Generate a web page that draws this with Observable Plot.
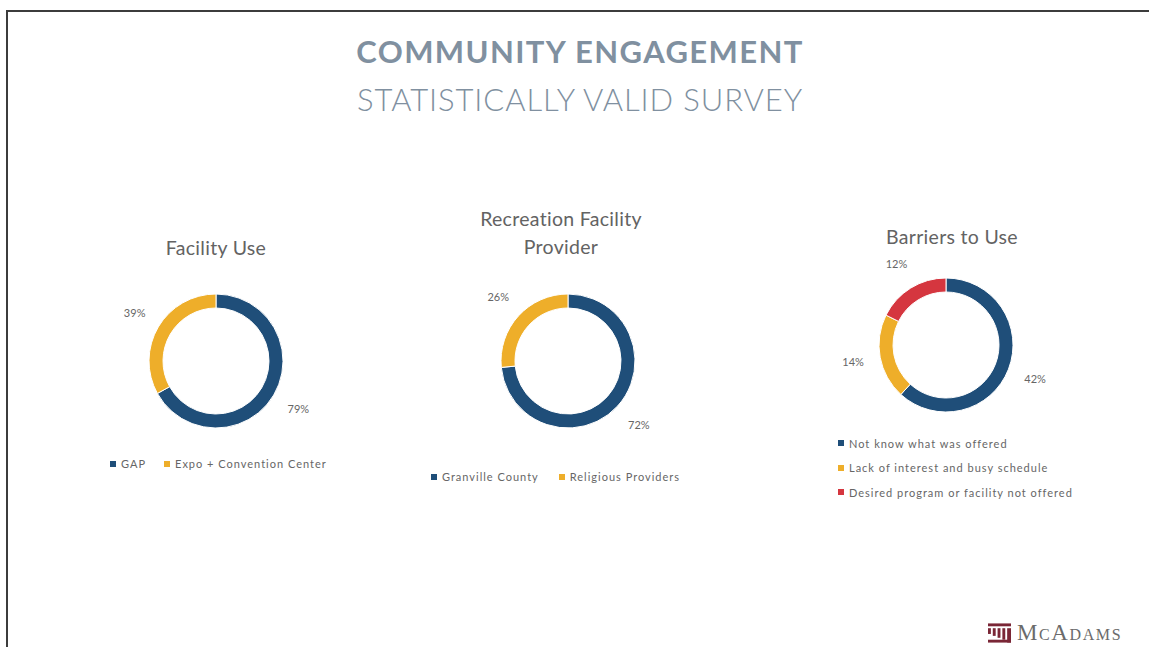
<!DOCTYPE html>
<html>
<head>
<meta charset="utf-8">
<script src="https://cdn.jsdelivr.net/npm/d3@7"></script>
<script src="https://cdn.jsdelivr.net/npm/@observablehq/plot@0.6"></script>
<style>
  html, body { margin: 0; padding: 0; background: #fff; }
  #page { position: relative; width: 1149px; height: 647px; overflow: hidden; background: #fff; font-family: Lato, "Open Sans", sans-serif; }
  #frame { position: absolute; left: 6px; top: 10px; width: 1200px; height: 700px; border-left: 2px solid #3c3c3c; border-top: 2px solid #3c3c3c; }
  .abs { position: absolute; }
  .main-title { left: 0; width: 1160px; text-align: center; color: #8090a0; font-size: 31px; white-space: nowrap; }
  .chart-title { text-align: center; color: #636363; font-size: 19.5px; line-height: 28px; white-space: nowrap; letter-spacing: 0.3px; }
  .legend { color: #666; font-size: 11px; letter-spacing: 1px; white-space: nowrap; display: flex; align-items: center; }
  .legend .item { display: flex; align-items: center; }
  .legend .sw { width: 6px; height: 6px; margin-right: 5px; display: inline-block; }
  .plot { position: absolute; }
  #logo { position: absolute; left: 988px; top: 620px; display: flex; align-items: center; }
  #logo .name { font-family: "Liberation Serif", "DejaVu Serif", serif; font-variant: small-caps; color: #6b6b6b; font-size: 23px; letter-spacing: 1.6px; margin-left: 6px; }
</style>
</head>
<body>
<div id="page">
  <div id="frame"></div>
  <div class="abs main-title" style="top:32px;font-weight:700;letter-spacing:1.4px;">COMMUNITY ENGAGEMENT</div>
  <div class="abs main-title" style="top:80px;font-weight:300;letter-spacing:0.9px;">STATISTICALLY VALID SURVEY</div>
</div>
<script>
// ---- data ----
const facilityTitle = ["Facility Use"];
const facilityLabels = ["GAP", "Expo + Convention Center"];
const facilityValues = [79, 39];

const providerTitle = ["Recreation Facility", "Provider"];
const providerLabels = ["Granville County", "Religious Providers"];
const providerValues = [72, 26];

const barrierTitle = ["Barriers to Use"];
const barrierLabels = ["Not know what was offered", "Lack of interest and busy schedule", "Desired program or facility not offered"];
const barrierValues = [42, 14, 12];

const sliceColors = ["#1f4e79", "#eeae2a", "#d5363f"];

// ---- drawing ----
const page = document.getElementById("page");
const OUTER = 67, INNER = 53, LABEL_R = 95;

function donut(labels, values, cx, cy) {
  const rows = labels.map((l, i) => ({label: l, value: values[i], color: sliceColors[i]}));
  const arcs = d3.pie().sort(null).value(d => d.value)(rows);
  const data = arcs.map(a => ({...a.data, start: a.startAngle, end: a.endAngle, mid: (a.startAngle + a.endAngle) / 2}));

  const ring = (index, scales, values, dims) => {
    const x0 = scales.x(0), y0 = scales.y(0);
    const k = Math.abs(scales.x(1) - scales.x(0));
    const g = d3.create("svg:g").attr("transform", `translate(${x0},${y0})`);
    const arc = d3.arc().innerRadius(INNER * k).outerRadius(OUTER * k);
    g.selectAll("path").data(data).join("path")
      .attr("d", d => arc({startAngle: d.start, endAngle: d.end}))
      .attr("fill", d => d.color)
      .attr("stroke", "#fff")
      .attr("stroke-width", 1);
    return g.node();
  };

  const svg = Plot.plot({
    width: 300, height: 300, margin: 0,
    x: {domain: [-150, 150], axis: null},
    y: {domain: [-150, 150], reverse: true, axis: null},
    style: {fontFamily: "Lato, 'Open Sans', sans-serif", fontSize: "11px", background: "transparent", overflow: "visible"},
    marks: [
      ring,
      Plot.text(data, {
        x: d => LABEL_R * Math.sin(d.mid),
        y: d => -LABEL_R * Math.cos(d.mid),
        text: d => d.value + "%",
        fill: "#666",
        fontSize: 11,
        letterSpacing: 0.6
      })
    ]
  });
  svg.classList.add("plot");
  svg.style.left = (cx - 150) + "px";
  svg.style.top = (cy - 150) + "px";
  page.appendChild(svg);
}

function title(lines, cx, top) {
  const div = document.createElement("div");
  div.className = "abs chart-title";
  div.style.left = (cx - 150) + "px";
  div.style.width = "300px";
  div.style.top = top + "px";
  div.innerHTML = lines.join("<br>");
  page.appendChild(div);
}

function legend(labels, left, top, vertical, gap) {
  const div = document.createElement("div");
  div.className = "abs legend";
  div.style.left = left + "px";
  div.style.top = top + "px";
  if (vertical) { div.style.flexDirection = "column"; div.style.alignItems = "flex-start"; }
  labels.forEach((l, i) => {
    const it = document.createElement("div");
    it.className = "item";
    if (vertical) { it.style.height = "24.5px"; } else if (i > 0) { it.style.marginLeft = gap + "px"; }
    const sw = document.createElement("span");
    sw.className = "sw";
    sw.style.background = sliceColors[i];
    it.appendChild(sw);
    const t = document.createElement("span");
    t.textContent = l;
    it.appendChild(t);
    div.appendChild(it);
  });
  page.appendChild(div);
}

title(facilityTitle, 216, 234);
donut(facilityLabels, facilityValues, 216, 361);
legend(facilityLabels, 110, 457, false, 18);

title(providerTitle, 561, 205);
donut(providerLabels, providerValues, 568, 361);
legend(providerLabels, 431, 470, false, 20);

title(barrierTitle, 952, 223);
donut(barrierLabels, barrierValues, 946, 345);
legend(barrierLabels, 838, 431, true, 0);

// logo
const logo = document.createElement("div");
logo.id = "logo";
logo.innerHTML = `<svg width="23" height="20" viewBox="0 0 24 20">
  <g fill="#7a2636">
    <rect x="0" y="0" width="24" height="3"/>
    <rect x="0" y="5" width="3" height="6"/>
    <rect x="5" y="5" width="3" height="8"/>
    <rect x="10" y="5" width="3" height="10"/>
    <rect x="15" y="5" width="3" height="12"/>
    <rect x="20" y="5" width="4" height="15"/>
    <rect x="0" y="17" width="24" height="3"/>
  </g></svg><span class="name">McAdams</span>`;
page.appendChild(logo);
</script>
</body>
</html>
